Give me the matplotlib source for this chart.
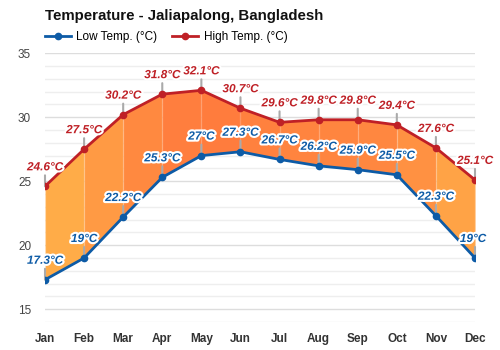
import numpy as np
import matplotlib
matplotlib.use('Agg')
import matplotlib.pyplot as plt
import matplotlib.patheffects as pe
from matplotlib.colors import LinearSegmentedColormap, Normalize

# chart data
months = ['Jan', 'Feb', 'Mar', 'Apr', 'May', 'Jun', 'Jul', 'Aug', 'Sep', 'Oct', 'Nov', 'Dec']
low_temp = [17.3, 19, 22.2, 25.3, 27, 27.3, 26.7, 26.2, 25.9, 25.5, 22.3, 19]
high_temp = [24.6, 27.5, 30.2, 31.8, 32.1, 30.7, 29.6, 29.8, 29.8, 29.4, 27.6, 25.1]
yticks = [15, 20, 25, 30, 35]

low_color = '#0d5ba6'
high_color = '#bf2026'

plt.rcParams['font.family'] = ['Liberation Sans', 'DejaVu Sans']

fig = plt.figure(figsize=(5, 3.5), dpi=100)
ax = fig.add_axes([0.09, 0.08, 0.86, 0.768])
x = np.arange(len(months))

# fill between lines, colour by segment temperature
cmap = LinearSegmentedColormap.from_list('warm', ['#ffb34a', '#ff7b3d'])
norm = Normalize(vmin=21, vmax=29.5)
for i in range(len(x) - 1):
    mean_t = (low_temp[i] + low_temp[i + 1] + high_temp[i] + high_temp[i + 1]) / 4
    ax.fill_between(x[i:i + 2], low_temp[i:i + 2], high_temp[i:i + 2],
                    color=cmap(norm(mean_t)), linewidth=0, zorder=2)
ax.vlines(x, low_temp, high_temp, color='white', alpha=0.18, lw=1, zorder=3)

ax.plot(x, low_temp, '-o', color=low_color, lw=2, ms=4.5, zorder=5, label='Low Temp. (°C)')
ax.plot(x, high_temp, '-o', color=high_color, lw=2, ms=4.5, zorder=5, label='High Temp. (°C)')

stroke = [pe.withStroke(linewidth=3, foreground='white')]
for xs, ys, col in [(x, low_temp, low_color), (x, high_temp, high_color)]:
    for xi, yi in zip(xs, ys):
        ax.annotate('', xy=(xi, yi), xytext=(0, 11), textcoords='offset pixels',
                    arrowprops=dict(arrowstyle='-', color='#aaaaaa', lw=1.5, shrinkA=0, shrinkB=0),
                    zorder=4)
        txt = '%g°C' % yi
        dx = 0
        if xi == x[-1] and col == low_color:
            dx = -2
        ax.annotate(txt, xy=(xi, yi), xytext=(dx, 19), textcoords='offset pixels',
                    ha='center', va='center', fontsize=8.5, fontweight='bold', style='italic',
                    color=col, path_effects=stroke, zorder=6)

ax.set_xlim(0, 11)
ax.set_ylim(14, 35)
ax.set_yticks(yticks)
ax.set_yticks(np.arange(14, 36), minor=True)
ax.grid(which='major', axis='y', color='#dddddd', lw=1, zorder=0)
ax.grid(which='minor', axis='y', color='#eeeeee', lw=1, zorder=0)
ax.set_xticks(x)
ax.set_xticklabels(months, fontweight='bold', fontsize=8.5, color='#333333')
ax.tick_params(axis='y', which='both', length=0, labelsize=8.5, labelcolor='#444444', pad=10)
ax.tick_params(axis='x', length=0, pad=8)
for s in ax.spines.values():
    s.set_visible(False)

fig.text(0.09, 0.955, 'Temperature - Jaliapalong, Bangladesh', fontsize=10.8,
         fontweight='bold', ha='left', va='center', color='#111111')
fig.legend(loc='center left', bbox_to_anchor=(0.068, 0.893), ncol=2, frameon=False,
           fontsize=8.5, handlelength=2.2, columnspacing=1.2, handletextpad=0.5)

fig.savefig('out.png', dpi=100)
